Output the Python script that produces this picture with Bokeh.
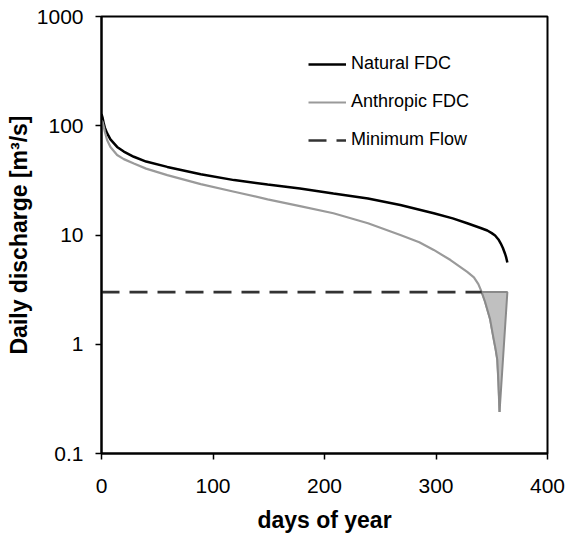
from bokeh.plotting import figure
from bokeh.models import FixedTicker, CustomJSTickFormatter, Range1d, Legend, LegendItem
from bokeh.embed import file_html
from bokeh.resources import INLINE

# ---- data ----
natural_days = [0, 1, 2, 3, 5, 8, 14, 20, 29, 40, 59, 89, 119, 149, 178, 208, 239, 268,
                298, 315, 328, 340, 346, 350, 353, 356, 358, 360, 362, 363, 364]
natural_q = [128, 118, 105, 96, 85.5, 75, 64, 58, 52, 47, 42, 36, 31.8, 29, 26.7, 24, 21.6,
             18.8, 15.8, 14.2, 12.8, 11.6, 11.0, 10.4, 9.9, 9.1, 8.4, 7.6, 6.7, 6.2, 5.6]

anthropic_days = [0, 1, 2, 3, 5, 8, 14, 20, 29, 40, 59, 89, 119, 149, 178, 208, 239, 268,
                  285, 298, 313, 328, 334, 338, 341, 344, 348.5, 351.5, 353.5, 355, 356, 357]
anthropic_q = [112, 108, 98, 88, 74, 64, 54, 49.5, 45.2, 40.5, 35.3, 29.2, 24.9, 21.2, 18.4,
               15.8, 12.8, 10.0, 8.6, 7.3, 5.9, 4.6, 4.1, 3.55, 3.0, 2.45, 1.7, 1.15, 0.9,
               0.72, 0.45, 0.24]

min_flow = 3.0
min_flow_days = [0, 341]
deficit_end_day = 364

x_ticks = [0, 100, 200, 300, 400]
y_ticks = [0.1, 1, 10, 100, 1000]
y_tick_labels = ["0.1", "1", "10", "100", "1000"]

FONT = "Liberation Sans"

p = figure(width=568, height=535, y_axis_type="log",
           x_range=Range1d(0, 400), y_range=Range1d(0.1, 1000),
           output_backend="svg", toolbar_location=None,
           min_border_left=101, min_border_right=21,
           min_border_top=16, min_border_bottom=81)

p.background_fill_color = "white"
p.border_fill_color = "white"
p.outline_line_color = "black"
p.outline_line_width = 2
p.grid.visible = False

# deficit polygon: anthropic curve below the minimum flow, closed back to min flow at year end
tail = [(d, q) for d, q in zip(anthropic_days, anthropic_q) if q <= min_flow]
poly_x = [d for d, _ in tail] + [deficit_end_day]
poly_y = [q for _, q in tail] + [min_flow]

r_nat = p.line(natural_days, natural_q, line_color="black", line_width=2.5)
r_ant = p.line(anthropic_days, anthropic_q, line_color="#9a9a9a", line_width=2.2)
p.patch(poly_x, poly_y, fill_color="#c0c0c0", line_color="#8a8a8a", line_width=2)
r_min = p.line(min_flow_days, [min_flow, min_flow], line_color="#333333",
               line_width=2.6, line_dash="18 10")

# axes
for ax in (p.xaxis[0], p.yaxis[0]):
    ax.axis_line_color = "black"
    ax.axis_line_width = 2
    ax.major_tick_line_color = "black"
    ax.major_tick_line_width = 1.5
    ax.major_tick_out = 6
    ax.major_tick_in = 0
    ax.minor_tick_line_color = None
    ax.major_label_text_font = FONT
    ax.major_label_text_font_size = "21px"
    ax.major_label_text_color = "black"
    ax.axis_label_text_font = FONT
    ax.axis_label_text_font_size = "23px"
    ax.axis_label_text_font_style = "bold"
    ax.axis_label_text_color = "black"

p.xaxis.ticker = FixedTicker(ticks=x_ticks)
p.xaxis.axis_label = "days of year"
p.xaxis.major_label_standoff = 19
p.xaxis.axis_label_standoff = 11

p.yaxis.ticker = FixedTicker(ticks=y_ticks)
p.yaxis.formatter = CustomJSTickFormatter(
    args=dict(vals=y_ticks, labs=y_tick_labels),
    code="const i = vals.findIndex(v => Math.abs(Math.log10(v) - Math.log10(tick)) < 1e-6);"
         " return i >= 0 ? labs[i] : '';")
p.yaxis.axis_label = "Daily discharge [m³/s]"
p.yaxis.major_label_standoff = 12
p.yaxis.axis_label_standoff = 2

legend = Legend(items=[
    LegendItem(label="Natural FDC", renderers=[r_nat]),
    LegendItem(label="Anthropic FDC", renderers=[r_ant]),
    LegendItem(label="Minimum Flow", renderers=[r_min]),
], location=(207, 303))
legend.border_line_color = None
legend.background_fill_alpha = 0
legend.padding = 0
legend.margin = 0
legend.spacing = 17
legend.glyph_width = 38
legend.glyph_height = 20
legend.label_height = 20
legend.label_standoff = 5
legend.label_text_font = FONT
legend.label_text_font_size = "18px"
legend.label_text_color = "black"
p.add_layout(legend)

open("out.html", "w").write(file_html(p, INLINE))
